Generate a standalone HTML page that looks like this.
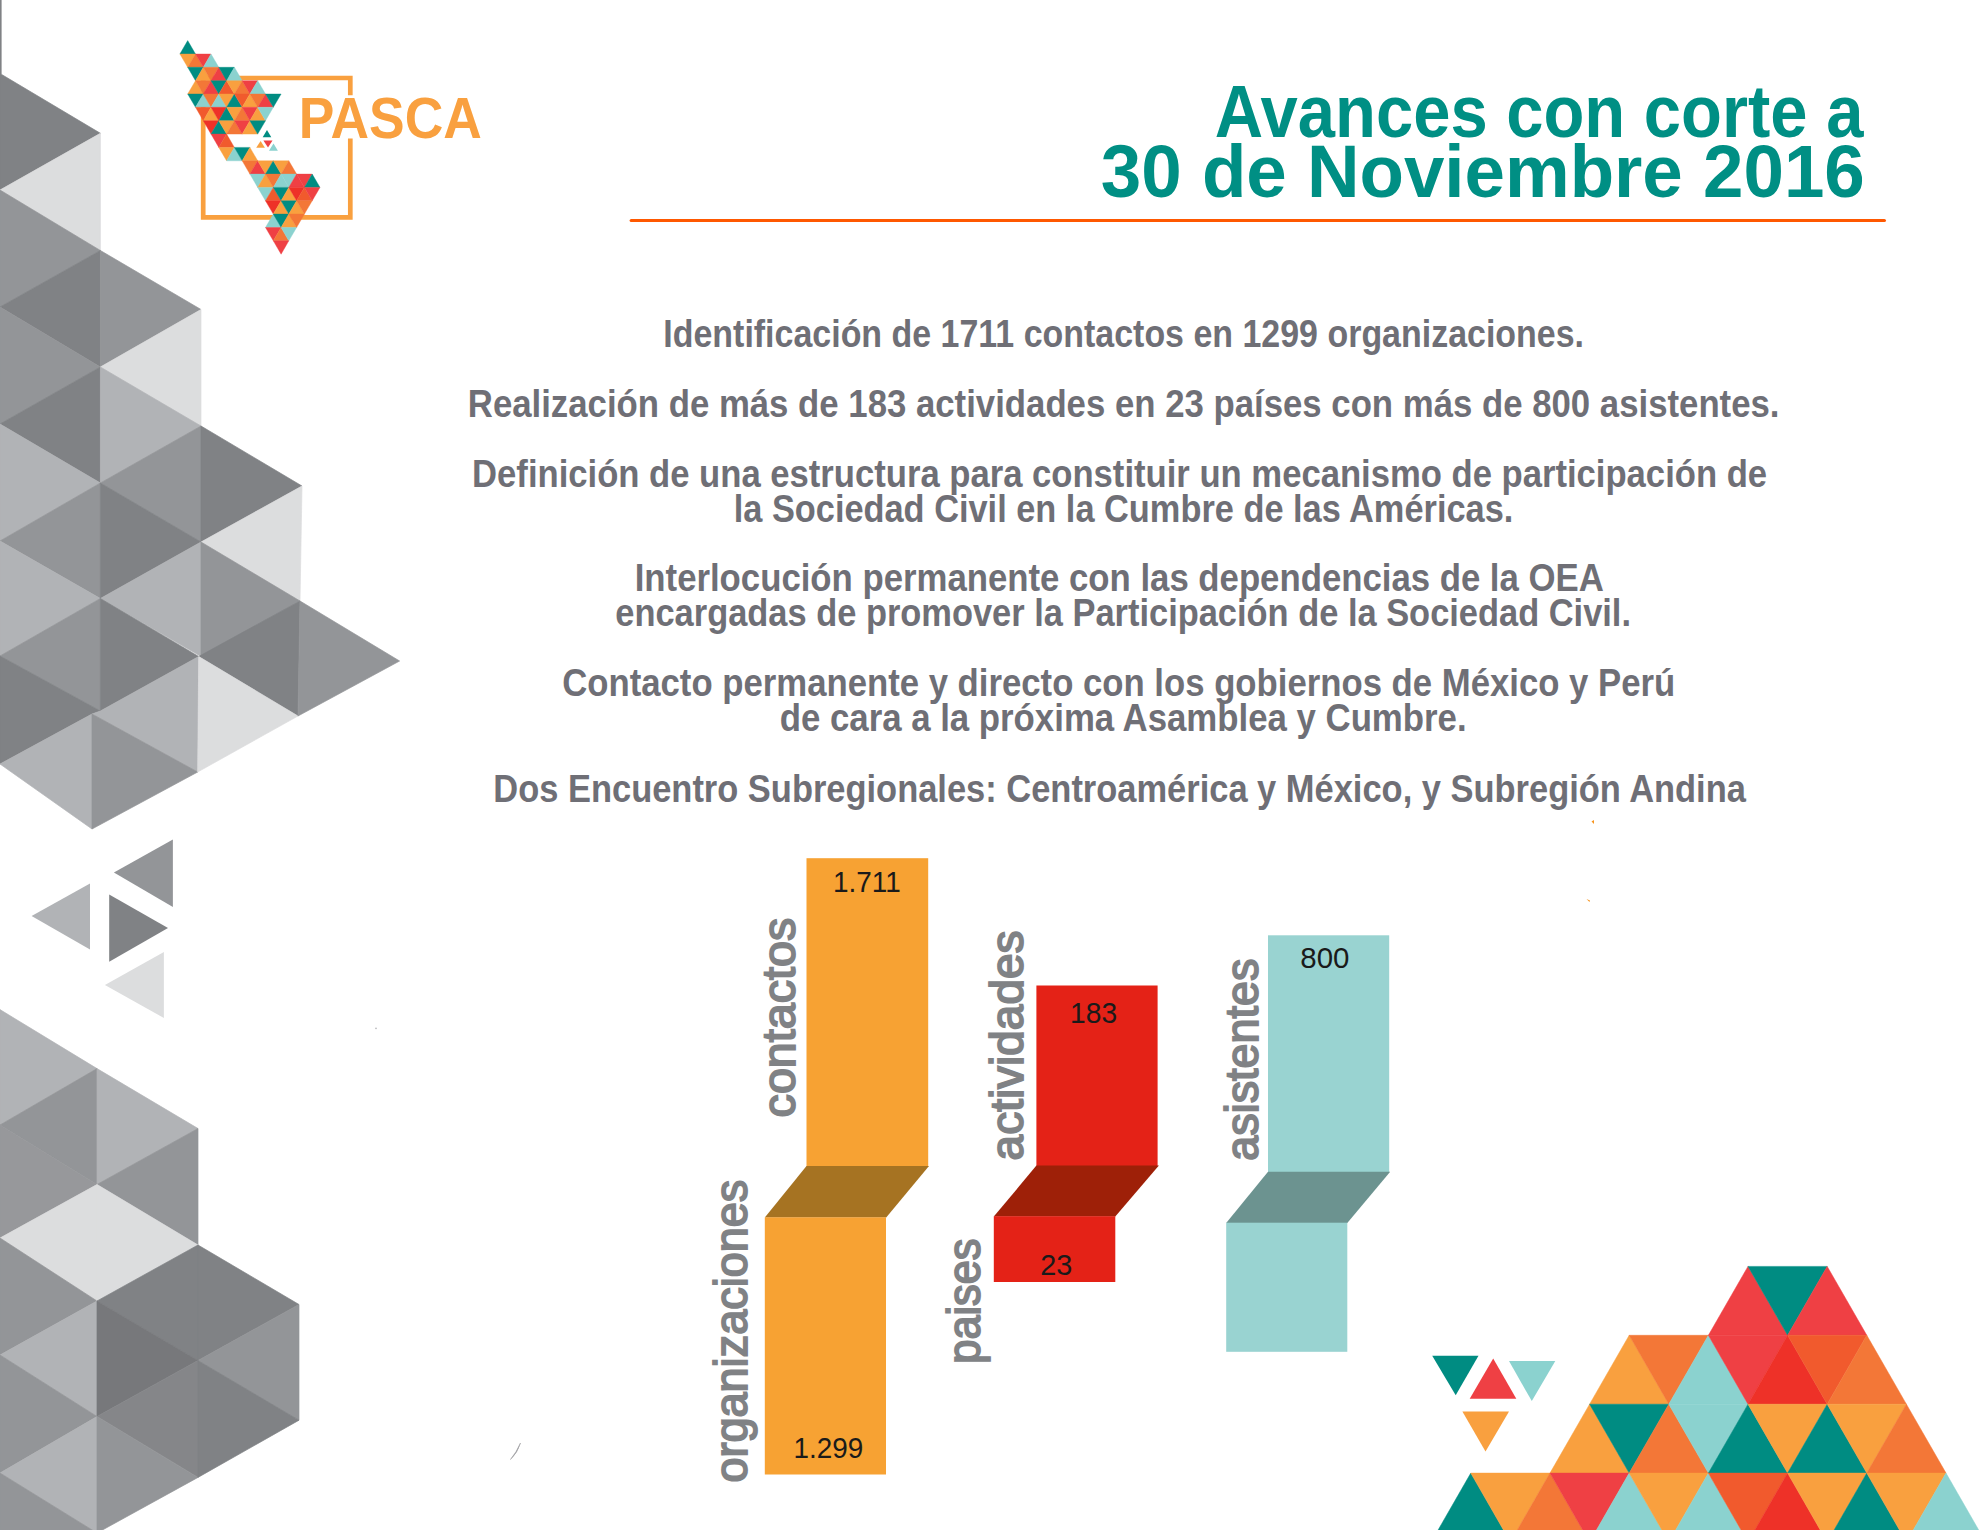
<!DOCTYPE html>
<html lang="es">
<head>
<meta charset="utf-8">
<title>PASCA - Avances con corte a 30 de Noviembre 2016</title>
<style>
html,body{margin:0;padding:0;background:#fff;}
body{width:1980px;height:1530px;overflow:hidden;font-family:"Liberation Sans",sans-serif;}
svg{display:block;}
text{white-space:pre;}
</style>
</head>
<body>
<svg width="1980" height="1530" viewBox="0 0 1980 1530">
<rect width="1980" height="1530" fill="#ffffff"/>
<g id="grey-pattern" shape-rendering="geometricPrecision">
<rect x="0" y="0" width="1.6" height="74" fill="#808285"/>
<polygon points="0.0,73.5 100.4,133.3 0.0,190.0" fill="#808285" stroke="#808285" stroke-width="0.7"/>
<polygon points="100.4,133.3 100.4,250.5 0.0,190.0" fill="#dcddde" stroke="#dcddde" stroke-width="0.7"/>
<polygon points="0.0,190.0 100.4,250.5 0.0,307.0" fill="#939598" stroke="#939598" stroke-width="0.7"/>
<polygon points="100.4,250.5 100.4,367.0 0.0,307.0" fill="#808285" stroke="#808285" stroke-width="0.7"/>
<polygon points="0.0,307.0 100.4,367.0 0.0,424.0" fill="#939598" stroke="#939598" stroke-width="0.7"/>
<polygon points="100.4,367.0 100.4,483.0 0.0,424.0" fill="#808285" stroke="#808285" stroke-width="0.7"/>
<polygon points="0.0,424.0 100.4,483.0 0.0,541.0" fill="#b1b3b6" stroke="#b1b3b6" stroke-width="0.7"/>
<polygon points="100.4,483.0 100.4,598.5 0.0,541.0" fill="#939598" stroke="#939598" stroke-width="0.7"/>
<polygon points="0.0,541.0 100.4,598.5 0.0,656.0" fill="#b1b3b6" stroke="#b1b3b6" stroke-width="0.7"/>
<polygon points="100.4,598.5 100.4,711.0 0.0,656.0" fill="#939598" stroke="#939598" stroke-width="0.7"/>
<polygon points="0.0,656.0 100.4,711.0 92.0,714.0 0.0,764.0" fill="#808285" stroke="#808285" stroke-width="0.7"/>
<polygon points="92.0,714.0 92.0,829.0 0.0,764.0" fill="#b1b3b6" stroke="#b1b3b6" stroke-width="0.7"/>
<polygon points="100.4,250.5 201.0,309.5 100.4,367.0" fill="#939598" stroke="#939598" stroke-width="0.7"/>
<polygon points="201.0,309.5 201.0,426.0 100.4,367.0" fill="#dcddde" stroke="#dcddde" stroke-width="0.7"/>
<polygon points="100.4,367.0 201.0,426.0 100.4,483.0" fill="#b1b3b6" stroke="#b1b3b6" stroke-width="0.7"/>
<polygon points="201.0,426.0 201.0,542.0 100.4,483.0" fill="#939598" stroke="#939598" stroke-width="0.7"/>
<polygon points="100.4,483.0 201.0,542.0 100.4,598.5" fill="#808285" stroke="#808285" stroke-width="0.7"/>
<polygon points="201.0,542.0 201.0,656.5 100.4,598.5" fill="#b1b3b6" stroke="#b1b3b6" stroke-width="0.7"/>
<polygon points="100.4,598.5 198.7,656.5 100.4,711.0" fill="#808285" stroke="#808285" stroke-width="0.7"/>
<polygon points="198.7,656.5 197.7,772.0 92.0,714.0 100.4,711.0" fill="#b1b3b6" stroke="#b1b3b6" stroke-width="0.7"/>
<polygon points="92.0,714.0 197.7,772.0 92.0,829.0" fill="#939598" stroke="#939598" stroke-width="0.7"/>
<polygon points="201.0,426.0 302.0,486.0 201.0,542.0" fill="#808285" stroke="#808285" stroke-width="0.7"/>
<polygon points="302.0,486.0 300.0,601.0 201.0,542.0" fill="#dcddde" stroke="#dcddde" stroke-width="0.7"/>
<polygon points="201.0,542.0 300.0,601.0 201.0,656.5" fill="#939598" stroke="#939598" stroke-width="0.7"/>
<polygon points="300.0,601.0 298.0,716.0 198.7,656.5" fill="#808285" stroke="#808285" stroke-width="0.7"/>
<polygon points="198.7,656.5 298.0,716.0 197.7,772.0" fill="#dcddde" stroke="#dcddde" stroke-width="0.7"/>
<polygon points="300.0,601.0 399.6,661.0 298.0,716.0" fill="#939598" stroke="#939598" stroke-width="0.7"/>
<polygon points="172.9,839.6 172.9,906.9 113.9,872.5" fill="#939598"/>
<polygon points="90.0,883.5 90.0,949.4 31.6,915.9" fill="#b1b3b6"/>
<polygon points="109.2,894.5 109.2,961.7 168.0,928.0" fill="#808285"/>
<polygon points="163.9,952.1 163.9,1018.0 104.9,985.0" fill="#dcddde"/>
<polygon points="0.0,1009.6 97.0,1068.6 0.0,1125.0" fill="#b1b3b6" stroke="#b1b3b6" stroke-width="0.7"/>
<polygon points="97.0,1068.6 97.0,1184.5 0.0,1125.0" fill="#939598" stroke="#939598" stroke-width="0.7"/>
<polygon points="0.0,1125.0 97.0,1184.5 0.0,1238.0" fill="#97989b" stroke="#97989b" stroke-width="0.7"/>
<polygon points="97.0,1184.5 97.0,1301.0 0.0,1238.0" fill="#dcddde" stroke="#dcddde" stroke-width="0.7"/>
<polygon points="0.0,1238.0 97.0,1301.0 0.0,1355.0" fill="#939598" stroke="#939598" stroke-width="0.7"/>
<polygon points="97.0,1301.0 97.0,1416.5 0.0,1355.0" fill="#b1b3b6" stroke="#b1b3b6" stroke-width="0.7"/>
<polygon points="0.0,1355.0 97.0,1416.5 0.0,1473.0" fill="#939598" stroke="#939598" stroke-width="0.7"/>
<polygon points="97.0,1416.5 97.0,1533.0 0.0,1473.0" fill="#b1b3b6" stroke="#b1b3b6" stroke-width="0.7"/>
<polygon points="0.0,1473.0 97.0,1533.0 0.0,1590.0" fill="#939598" stroke="#939598" stroke-width="0.7"/>
<polygon points="97.0,1068.6 198.0,1128.5 97.0,1184.5" fill="#b1b3b6" stroke="#b1b3b6" stroke-width="0.7"/>
<polygon points="198.0,1128.5 198.0,1245.0 97.0,1184.5" fill="#939598" stroke="#939598" stroke-width="0.7"/>
<polygon points="97.0,1184.5 198.0,1245.0 97.0,1301.0" fill="#dcddde" stroke="#dcddde" stroke-width="0.7"/>
<polygon points="198.0,1245.0 198.0,1360.5 97.0,1301.0" fill="#808285" stroke="#808285" stroke-width="0.7"/>
<polygon points="97.0,1301.0 198.0,1360.5 97.0,1416.5" fill="#77787b" stroke="#77787b" stroke-width="0.7"/>
<polygon points="198.0,1360.5 198.0,1477.4 97.0,1416.5" fill="#858689" stroke="#858689" stroke-width="0.7"/>
<polygon points="97.0,1416.5 198.0,1477.4 97.0,1533.0" fill="#939598" stroke="#939598" stroke-width="0.7"/>
<polygon points="198.0,1245.0 299.0,1304.5 198.0,1360.5" fill="#808285" stroke="#808285" stroke-width="0.7"/>
<polygon points="299.0,1304.5 299.0,1420.2 198.0,1360.5" fill="#939598" stroke="#939598" stroke-width="0.7"/>
<polygon points="198.0,1360.5 299.0,1420.2 198.0,1477.4" fill="#808285" stroke="#808285" stroke-width="0.7"/>
</g>
<g id="logo">
<path d="M350.3 95.2 V78.0 H203.2 V217.4 H350.3 V138.6" fill="none" stroke="#f9a03f" stroke-width="4.7" stroke-linejoin="miter"/>
<polygon points="187.7,40.6 179.9,54.0 195.5,54.0" fill="#008c82" stroke="#008c82" stroke-width="0.4"/>
<polygon points="179.9,54.0 195.5,54.0 187.7,67.3" fill="#f9a03f" stroke="#f9a03f" stroke-width="0.4"/>
<polygon points="195.5,54.0 187.7,67.3 203.3,67.3" fill="#f37737" stroke="#f37737" stroke-width="0.4"/>
<polygon points="195.5,54.0 211.0,54.0 203.3,67.3" fill="#ef4044" stroke="#ef4044" stroke-width="0.4"/>
<polygon points="211.0,54.0 203.3,67.3 218.8,67.3" fill="#8bd2cf" stroke="#8bd2cf" stroke-width="0.4"/>
<polygon points="187.7,67.3 203.3,67.3 195.5,80.7" fill="#008c82" stroke="#008c82" stroke-width="0.4"/>
<polygon points="203.3,67.3 195.5,80.7 211.0,80.7" fill="#f9a03f" stroke="#f9a03f" stroke-width="0.4"/>
<polygon points="203.3,67.3 218.8,67.3 211.0,80.7" fill="#f37737" stroke="#f37737" stroke-width="0.4"/>
<polygon points="218.8,67.3 211.0,80.7 226.6,80.7" fill="#ef4044" stroke="#ef4044" stroke-width="0.4"/>
<polygon points="218.8,67.3 234.4,67.3 226.6,80.7" fill="#008c82" stroke="#008c82" stroke-width="0.4"/>
<polygon points="234.4,67.3 226.6,80.7 242.2,80.7" fill="#8bd2cf" stroke="#8bd2cf" stroke-width="0.4"/>
<polygon points="195.5,80.7 187.7,94.0 203.3,94.0" fill="#f9a03f" stroke="#f9a03f" stroke-width="0.4"/>
<polygon points="195.5,80.7 211.0,80.7 203.3,94.0" fill="#f37737" stroke="#f37737" stroke-width="0.4"/>
<polygon points="211.0,80.7 203.3,94.0 218.8,94.0" fill="#ef4044" stroke="#ef4044" stroke-width="0.4"/>
<polygon points="211.0,80.7 226.6,80.7 218.8,94.0" fill="#008c82" stroke="#008c82" stroke-width="0.4"/>
<polygon points="226.6,80.7 218.8,94.0 234.4,94.0" fill="#f15a2d" stroke="#f15a2d" stroke-width="0.4"/>
<polygon points="226.6,80.7 242.2,80.7 234.4,94.0" fill="#f9a03f" stroke="#f9a03f" stroke-width="0.4"/>
<polygon points="242.2,80.7 234.4,94.0 249.9,94.0" fill="#f37737" stroke="#f37737" stroke-width="0.4"/>
<polygon points="242.2,80.7 257.7,80.7 249.9,94.0" fill="#ef4044" stroke="#ef4044" stroke-width="0.4"/>
<polygon points="257.7,80.7 249.9,94.0 265.5,94.0" fill="#8bd2cf" stroke="#8bd2cf" stroke-width="0.4"/>
<polygon points="187.7,94.0 203.3,94.0 195.5,107.3" fill="#008c82" stroke="#008c82" stroke-width="0.4"/>
<polygon points="203.3,94.0 195.5,107.3 211.0,107.3" fill="#8bd2cf" stroke="#8bd2cf" stroke-width="0.4"/>
<polygon points="203.3,94.0 218.8,94.0 211.0,107.3" fill="#f37737" stroke="#f37737" stroke-width="0.4"/>
<polygon points="218.8,94.0 211.0,107.3 226.6,107.3" fill="#8bd2cf" stroke="#8bd2cf" stroke-width="0.4"/>
<polygon points="218.8,94.0 234.4,94.0 226.6,107.3" fill="#f9a03f" stroke="#f9a03f" stroke-width="0.4"/>
<polygon points="234.4,94.0 226.6,107.3 242.2,107.3" fill="#008c82" stroke="#008c82" stroke-width="0.4"/>
<polygon points="234.4,94.0 249.9,94.0 242.2,107.3" fill="#f15a2d" stroke="#f15a2d" stroke-width="0.4"/>
<polygon points="249.9,94.0 242.2,107.3 257.7,107.3" fill="#f9a03f" stroke="#f9a03f" stroke-width="0.4"/>
<polygon points="249.9,94.0 265.5,94.0 257.7,107.3" fill="#f37737" stroke="#f37737" stroke-width="0.4"/>
<polygon points="265.5,94.0 257.7,107.3 273.3,107.3" fill="#ef4044" stroke="#ef4044" stroke-width="0.4"/>
<polygon points="265.5,94.0 281.1,94.0 273.3,107.3" fill="#008c82" stroke="#008c82" stroke-width="0.4"/>
<polygon points="195.5,107.3 211.0,107.3 203.3,120.7" fill="#f15a2d" stroke="#f15a2d" stroke-width="0.4"/>
<polygon points="211.0,107.3 203.3,120.7 218.8,120.7" fill="#f9a03f" stroke="#f9a03f" stroke-width="0.4"/>
<polygon points="211.0,107.3 226.6,107.3 218.8,120.7" fill="#ee3128" stroke="#ee3128" stroke-width="0.4"/>
<polygon points="226.6,107.3 218.8,120.7 234.4,120.7" fill="#008c82" stroke="#008c82" stroke-width="0.4"/>
<polygon points="226.6,107.3 242.2,107.3 234.4,120.7" fill="#f9a03f" stroke="#f9a03f" stroke-width="0.4"/>
<polygon points="242.2,107.3 234.4,120.7 249.9,120.7" fill="#f37737" stroke="#f37737" stroke-width="0.4"/>
<polygon points="242.2,107.3 257.7,107.3 249.9,120.7" fill="#ef4044" stroke="#ef4044" stroke-width="0.4"/>
<polygon points="257.7,107.3 249.9,120.7 265.5,120.7" fill="#f9a03f" stroke="#f9a03f" stroke-width="0.4"/>
<polygon points="257.7,107.3 273.3,107.3 265.5,120.7" fill="#8bd2cf" stroke="#8bd2cf" stroke-width="0.4"/>
<polygon points="203.3,120.7 218.8,120.7 211.0,134.1" fill="#ee3128" stroke="#ee3128" stroke-width="0.4"/>
<polygon points="218.8,120.7 211.0,134.1 226.6,134.1" fill="#008c82" stroke="#008c82" stroke-width="0.4"/>
<polygon points="218.8,120.7 234.4,120.7 226.6,134.1" fill="#f9a03f" stroke="#f9a03f" stroke-width="0.4"/>
<polygon points="234.4,120.7 226.6,134.1 242.2,134.1" fill="#f37737" stroke="#f37737" stroke-width="0.4"/>
<polygon points="234.4,120.7 249.9,120.7 242.2,134.1" fill="#ef4044" stroke="#ef4044" stroke-width="0.4"/>
<polygon points="249.9,120.7 242.2,134.1 257.7,134.1" fill="#f9a03f" stroke="#f9a03f" stroke-width="0.4"/>
<polygon points="249.9,120.7 265.5,120.7 257.7,134.1" fill="#008c82" stroke="#008c82" stroke-width="0.4"/>
<polygon points="211.0,134.1 226.6,134.1 218.8,147.4" fill="#ef4044" stroke="#ef4044" stroke-width="0.4"/>
<polygon points="226.6,134.1 218.8,147.4 234.4,147.4" fill="#f15a2d" stroke="#f15a2d" stroke-width="0.4"/>
<polygon points="218.8,147.4 234.4,147.4 226.6,160.8" fill="#f9a03f" stroke="#f9a03f" stroke-width="0.4"/>
<polygon points="234.4,147.4 226.6,160.8 242.2,160.8" fill="#8bd2cf" stroke="#8bd2cf" stroke-width="0.4"/>
<polygon points="234.4,147.4 249.9,147.4 242.2,160.8" fill="#008c82" stroke="#008c82" stroke-width="0.4"/>
<polygon points="249.9,147.4 242.2,160.8 257.7,160.8" fill="#f9a03f" stroke="#f9a03f" stroke-width="0.4"/>
<polygon points="242.2,160.8 257.7,160.8 249.9,174.1" fill="#f37737" stroke="#f37737" stroke-width="0.4"/>
<polygon points="257.7,160.8 249.9,174.1 265.5,174.1" fill="#ef4044" stroke="#ef4044" stroke-width="0.4"/>
<polygon points="257.7,160.8 273.3,160.8 265.5,174.1" fill="#f9a03f" stroke="#f9a03f" stroke-width="0.4"/>
<polygon points="273.3,160.8 265.5,174.1 281.1,174.1" fill="#008c82" stroke="#008c82" stroke-width="0.4"/>
<polygon points="273.3,160.8 288.8,160.8 281.1,174.1" fill="#f9a03f" stroke="#f9a03f" stroke-width="0.4"/>
<polygon points="288.8,160.8 281.1,174.1 296.6,174.1" fill="#f37737" stroke="#f37737" stroke-width="0.4"/>
<polygon points="249.9,174.1 265.5,174.1 257.7,187.4" fill="#8bd2cf" stroke="#8bd2cf" stroke-width="0.4"/>
<polygon points="265.5,174.1 257.7,187.4 273.3,187.4" fill="#f9a03f" stroke="#f9a03f" stroke-width="0.4"/>
<polygon points="265.5,174.1 281.1,174.1 273.3,187.4" fill="#f37737" stroke="#f37737" stroke-width="0.4"/>
<polygon points="281.1,174.1 273.3,187.4 288.8,187.4" fill="#8bd2cf" stroke="#8bd2cf" stroke-width="0.4"/>
<polygon points="281.1,174.1 296.6,174.1 288.8,187.4" fill="#8bd2cf" stroke="#8bd2cf" stroke-width="0.4"/>
<polygon points="296.6,174.1 288.8,187.4 304.4,187.4" fill="#ef4044" stroke="#ef4044" stroke-width="0.4"/>
<polygon points="296.6,174.1 312.2,174.1 304.4,187.4" fill="#ef4044" stroke="#ef4044" stroke-width="0.4"/>
<polygon points="312.2,174.1 304.4,187.4 320.0,187.4" fill="#008c82" stroke="#008c82" stroke-width="0.4"/>
<polygon points="257.7,187.4 273.3,187.4 265.5,200.8" fill="#8bd2cf" stroke="#8bd2cf" stroke-width="0.4"/>
<polygon points="273.3,187.4 265.5,200.8 281.1,200.8" fill="#f15a2d" stroke="#f15a2d" stroke-width="0.4"/>
<polygon points="273.3,187.4 288.8,187.4 281.1,200.8" fill="#008c82" stroke="#008c82" stroke-width="0.4"/>
<polygon points="288.8,187.4 281.1,200.8 296.6,200.8" fill="#f9a03f" stroke="#f9a03f" stroke-width="0.4"/>
<polygon points="288.8,187.4 304.4,187.4 296.6,200.8" fill="#ee3128" stroke="#ee3128" stroke-width="0.4"/>
<polygon points="304.4,187.4 296.6,200.8 312.2,200.8" fill="#f15a2d" stroke="#f15a2d" stroke-width="0.4"/>
<polygon points="304.4,187.4 320.0,187.4 312.2,200.8" fill="#ef4044" stroke="#ef4044" stroke-width="0.4"/>
<polygon points="265.5,200.8 281.1,200.8 273.3,214.1" fill="#ee3128" stroke="#ee3128" stroke-width="0.4"/>
<polygon points="281.1,200.8 273.3,214.1 288.8,214.1" fill="#f9a03f" stroke="#f9a03f" stroke-width="0.4"/>
<polygon points="281.1,200.8 296.6,200.8 288.8,214.1" fill="#008c82" stroke="#008c82" stroke-width="0.4"/>
<polygon points="296.6,200.8 288.8,214.1 304.4,214.1" fill="#f9a03f" stroke="#f9a03f" stroke-width="0.4"/>
<polygon points="296.6,200.8 312.2,200.8 304.4,214.1" fill="#f37737" stroke="#f37737" stroke-width="0.4"/>
<polygon points="273.3,214.1 265.5,227.5 281.1,227.5" fill="#8bd2cf" stroke="#8bd2cf" stroke-width="0.4"/>
<polygon points="273.3,214.1 288.8,214.1 281.1,227.5" fill="#008c82" stroke="#008c82" stroke-width="0.4"/>
<polygon points="288.8,214.1 281.1,227.5 296.6,227.5" fill="#f9a03f" stroke="#f9a03f" stroke-width="0.4"/>
<polygon points="288.8,214.1 304.4,214.1 296.6,227.5" fill="#f37737" stroke="#f37737" stroke-width="0.4"/>
<polygon points="265.5,227.5 281.1,227.5 273.3,240.8" fill="#ef4044" stroke="#ef4044" stroke-width="0.4"/>
<polygon points="281.1,227.5 273.3,240.8 288.8,240.8" fill="#f37737" stroke="#f37737" stroke-width="0.4"/>
<polygon points="281.1,227.5 296.6,227.5 288.8,240.8" fill="#8bd2cf" stroke="#8bd2cf" stroke-width="0.4"/>
<polygon points="273.3,240.8 288.8,240.8 281.1,254.2" fill="#ef4044" stroke="#ef4044" stroke-width="0.4"/>
<polygon points="267.0,130.0 262.7,137.3 271.3,137.3" fill="#008c82"/>
<polygon points="260.6,140.9 256.2,147.7 264.9,147.7" fill="#f9a03f"/>
<polygon points="263.4,140.4 272.5,140.4 268.0,147.4" fill="#ef4044"/>
<polygon points="273.5,143.6 269.0,150.7 277.9,150.7" fill="#8bd2cf"/>
<text x="298.8" y="137.8" font-family="'Liberation Sans',sans-serif" font-weight="700" font-size="57.3" fill="#f9a03f" textLength="183" lengthAdjust="spacingAndGlyphs">PASCA</text>
</g>
<g id="title">
<text x="1214.7" y="136.6" font-family="'Liberation Sans',sans-serif" font-weight="700" font-size="75" fill="#008f84" textLength="648.7" lengthAdjust="spacingAndGlyphs">Avances con corte a</text>
<text x="1100.8" y="196.7" font-family="'Liberation Sans',sans-serif" font-weight="700" font-size="75" fill="#008f84" textLength="764" lengthAdjust="spacingAndGlyphs">30 de Noviembre 2016</text>
<line x1="631.2" y1="220.5" x2="1884.4" y2="220.5" stroke="#ff5800" stroke-width="3.2" stroke-linecap="round"/>
</g>
<g id="body" font-family="'Liberation Sans',sans-serif" font-weight="700" font-size="38.2" fill="#6f6f76">
<text x="663.3" y="346.6" textLength="920.7" lengthAdjust="spacingAndGlyphs">Identificación de 1711 contactos en 1299 organizaciones.</text>
<text x="467.8" y="416.6" textLength="1311.7" lengthAdjust="spacingAndGlyphs">Realización de más de 183 actividades en 23 países con más de 800 asistentes.</text>
<text x="472.1" y="486.6" textLength="1295.0" lengthAdjust="spacingAndGlyphs">Definición de una estructura para constituir un mecanismo de participación de</text>
<text x="733.7" y="521.6" textLength="779.6" lengthAdjust="spacingAndGlyphs">la Sociedad Civil en la Cumbre de las Américas.</text>
<text x="634.7" y="591.3" textLength="969.1" lengthAdjust="spacingAndGlyphs">Interlocución permanente con las dependencias de la OEA</text>
<text x="615.3" y="625.9" textLength="1015.7" lengthAdjust="spacingAndGlyphs">encargadas de promover la Participación de la Sociedad Civil.</text>
<text x="562.2" y="696.3" textLength="1113.0" lengthAdjust="spacingAndGlyphs">Contacto permanente y directo con los gobiernos de México y Perú</text>
<text x="779.7" y="730.9" textLength="686.9" lengthAdjust="spacingAndGlyphs">de cara a la próxima Asamblea y Cumbre.</text>
<text x="493.3" y="801.6" textLength="1252.6" lengthAdjust="spacingAndGlyphs">Dos Encuentro Subregionales: Centroamérica y México, y Subregión Andina</text>
</g>
<g id="chart">
<rect x="806.5" y="858.2" width="121.7" height="308.5" fill="#f7a233"/>
<polygon points="806.5,1166.0 929.0,1166.0 886.2,1217.5 764.8,1217.5" fill="#a67322"/>
<rect x="764.8" y="1217.3" width="121.2" height="257.2" fill="#f7a233"/>
<rect x="1036.4" y="985.5" width="121.2" height="180.6" fill="#e42217"/>
<polygon points="1036.4,1165.6 1158.9,1165.6 1115.3,1216.6 993.8,1216.6" fill="#9e2008"/>
<rect x="993.8" y="1216.2" width="121.5" height="65.8" fill="#e42217"/>
<rect x="1268" y="935.3" width="121.2" height="236.8" fill="#99d3d1"/>
<polygon points="1268.0,1171.8 1390.2,1171.8 1347.3,1223.0 1226.2,1223.0" fill="#6c9390"/>
<rect x="1226.2" y="1222.7" width="121.1" height="129.1" fill="#99d3d1"/>
<text x="833.0" y="892.2" font-family="'Liberation Sans',sans-serif" font-size="29.5" fill="#1a1a1a" lengthAdjust="spacingAndGlyphs" textLength="67.8">1.711</text>
<text x="1070.1" y="1023.1" font-family="'Liberation Sans',sans-serif" font-size="29.5" fill="#1a1a1a" lengthAdjust="spacingAndGlyphs" textLength="47.0">183</text>
<text x="1300.3" y="967.5" font-family="'Liberation Sans',sans-serif" font-size="29.5" fill="#1a1a1a" lengthAdjust="spacingAndGlyphs" textLength="49.2">800</text>
<text x="793.6" y="1458.1" font-family="'Liberation Sans',sans-serif" font-size="29.5" fill="#1a1a1a" lengthAdjust="spacingAndGlyphs" textLength="69.7">1.299</text>
<text x="1040.3" y="1275.0" font-family="'Liberation Sans',sans-serif" font-size="29.5" fill="#1a1a1a" lengthAdjust="spacingAndGlyphs" textLength="32.1">23</text>
<text transform="translate(794.9 1117.4) rotate(-90)" x="0" y="0" font-family="'Liberation Sans',sans-serif" font-weight="400" font-size="45.5" fill="#808285" stroke="#808285" stroke-width="1.8" stroke-linejoin="miter" lengthAdjust="spacingAndGlyphs" textLength="199.7">contactos</text>
<text transform="translate(1022.7 1160.4) rotate(-90)" x="0" y="0" font-family="'Liberation Sans',sans-serif" font-weight="400" font-size="45.5" fill="#808285" stroke="#808285" stroke-width="1.8" stroke-linejoin="miter" lengthAdjust="spacingAndGlyphs" textLength="229.9">actividades</text>
<text transform="translate(1258.2 1160.8) rotate(-90)" x="0" y="0" font-family="'Liberation Sans',sans-serif" font-weight="400" font-size="45.5" fill="#808285" stroke="#808285" stroke-width="1.8" stroke-linejoin="miter" lengthAdjust="spacingAndGlyphs" textLength="202.3">asistentes</text>
<text transform="translate(747.1 1482.6) rotate(-90)" x="0" y="0" font-family="'Liberation Sans',sans-serif" font-weight="400" font-size="45.5" fill="#808285" stroke="#808285" stroke-width="1.8" stroke-linejoin="miter" lengthAdjust="spacingAndGlyphs" textLength="303.0">organizaciones</text>
<text transform="translate(979.6 1363.7) rotate(-90)" x="0" y="0" font-family="'Liberation Sans',sans-serif" font-weight="400" font-size="45.5" fill="#808285" stroke="#808285" stroke-width="1.8" stroke-linejoin="miter" lengthAdjust="spacingAndGlyphs" textLength="125.2">paises</text>
<polygon points="1591.5,821.5 1594,820 1594,824" fill="#f7941d"/>
<polygon points="1586.5,899 1590,900.5 1589.5,902" fill="#f7941d"/>
<path d="M510.5 1459.5 Q517.5 1453 520.5 1443 Q516.5 1452 510.5 1459.5Z" fill="#8e8e90" stroke="#a5a5a7" stroke-width="0.6"/>
<circle cx="376" cy="1028.4" r="0.8" fill="#b5b5b8"/>
</g>
<g id="mosaic">
<polygon points="1748.0,1266.4 1708.4,1335.3 1787.6,1335.3" fill="#ef4044" stroke="#ef4044" stroke-width="0.5"/>
<polygon points="1748.0,1266.4 1827.2,1266.4 1787.6,1335.3" fill="#008c82" stroke="#008c82" stroke-width="0.5"/>
<polygon points="1827.2,1266.4 1787.6,1335.3 1866.8,1335.3" fill="#ef4044" stroke="#ef4044" stroke-width="0.5"/>
<polygon points="1629.2,1335.3 1589.6,1404.2 1668.8,1404.2" fill="#f9a03f" stroke="#f9a03f" stroke-width="0.5"/>
<polygon points="1629.2,1335.3 1708.4,1335.3 1668.8,1404.2" fill="#f37737" stroke="#f37737" stroke-width="0.5"/>
<polygon points="1708.4,1335.3 1668.8,1404.2 1748.0,1404.2" fill="#8bd2cf" stroke="#8bd2cf" stroke-width="0.5"/>
<polygon points="1708.4,1335.3 1787.6,1335.3 1748.0,1404.2" fill="#ef4044" stroke="#ef4044" stroke-width="0.5"/>
<polygon points="1787.6,1335.3 1748.0,1404.2 1827.2,1404.2" fill="#ee3128" stroke="#ee3128" stroke-width="0.5"/>
<polygon points="1787.6,1335.3 1866.8,1335.3 1827.2,1404.2" fill="#f15a2d" stroke="#f15a2d" stroke-width="0.5"/>
<polygon points="1866.8,1335.3 1827.2,1404.2 1906.4,1404.2" fill="#f37737" stroke="#f37737" stroke-width="0.5"/>
<polygon points="1589.6,1404.2 1550.0,1473.1 1629.2,1473.1" fill="#f9a03f" stroke="#f9a03f" stroke-width="0.5"/>
<polygon points="1589.6,1404.2 1668.8,1404.2 1629.2,1473.1" fill="#008c82" stroke="#008c82" stroke-width="0.5"/>
<polygon points="1668.8,1404.2 1629.2,1473.1 1708.4,1473.1" fill="#f37737" stroke="#f37737" stroke-width="0.5"/>
<polygon points="1668.8,1404.2 1748.0,1404.2 1708.4,1473.1" fill="#8bd2cf" stroke="#8bd2cf" stroke-width="0.5"/>
<polygon points="1748.0,1404.2 1708.4,1473.1 1787.6,1473.1" fill="#008c82" stroke="#008c82" stroke-width="0.5"/>
<polygon points="1748.0,1404.2 1827.2,1404.2 1787.6,1473.1" fill="#f9a03f" stroke="#f9a03f" stroke-width="0.5"/>
<polygon points="1827.2,1404.2 1787.6,1473.1 1866.8,1473.1" fill="#008c82" stroke="#008c82" stroke-width="0.5"/>
<polygon points="1827.2,1404.2 1906.4,1404.2 1866.8,1473.1" fill="#f9a03f" stroke="#f9a03f" stroke-width="0.5"/>
<polygon points="1906.4,1404.2 1866.8,1473.1 1946.0,1473.1" fill="#f37737" stroke="#f37737" stroke-width="0.5"/>
<polygon points="1470.8,1473.1 1431.2,1542.0 1510.4,1542.0" fill="#008c82" stroke="#008c82" stroke-width="0.5"/>
<polygon points="1470.8,1473.1 1550.0,1473.1 1510.4,1542.0" fill="#f9a03f" stroke="#f9a03f" stroke-width="0.5"/>
<polygon points="1550.0,1473.1 1510.4,1542.0 1589.6,1542.0" fill="#f37737" stroke="#f37737" stroke-width="0.5"/>
<polygon points="1550.0,1473.1 1629.2,1473.1 1589.6,1542.0" fill="#ef4044" stroke="#ef4044" stroke-width="0.5"/>
<polygon points="1629.2,1473.1 1589.6,1542.0 1668.8,1542.0" fill="#8bd2cf" stroke="#8bd2cf" stroke-width="0.5"/>
<polygon points="1629.2,1473.1 1708.4,1473.1 1668.8,1542.0" fill="#f9a03f" stroke="#f9a03f" stroke-width="0.5"/>
<polygon points="1708.4,1473.1 1668.8,1542.0 1748.0,1542.0" fill="#8bd2cf" stroke="#8bd2cf" stroke-width="0.5"/>
<polygon points="1708.4,1473.1 1787.6,1473.1 1748.0,1542.0" fill="#f15a2d" stroke="#f15a2d" stroke-width="0.5"/>
<polygon points="1787.6,1473.1 1748.0,1542.0 1827.2,1542.0" fill="#ee3128" stroke="#ee3128" stroke-width="0.5"/>
<polygon points="1787.6,1473.1 1866.8,1473.1 1827.2,1542.0" fill="#f9a03f" stroke="#f9a03f" stroke-width="0.5"/>
<polygon points="1866.8,1473.1 1827.2,1542.0 1906.4,1542.0" fill="#008c82" stroke="#008c82" stroke-width="0.5"/>
<polygon points="1866.8,1473.1 1946.0,1473.1 1906.4,1542.0" fill="#f9a03f" stroke="#f9a03f" stroke-width="0.5"/>
<polygon points="1946.0,1473.1 1906.4,1542.0 1985.6,1542.0" fill="#8bd2cf" stroke="#8bd2cf" stroke-width="0.5"/>
<polygon points="1432.2,1355.7 1478.5,1355.7 1455.7,1395.3" fill="#008c82"/>
<polygon points="1493.2,1358.6 1469.7,1398.8 1516.3,1398.8" fill="#ef4044"/>
<polygon points="1509.0,1361.0 1555.3,1361.0 1531.8,1401.1" fill="#8bd2cf"/>
<polygon points="1462.4,1411.4 1509.0,1411.4 1485.5,1451.5" fill="#f9a03f"/>
</g>
</svg>
</body>
</html>
